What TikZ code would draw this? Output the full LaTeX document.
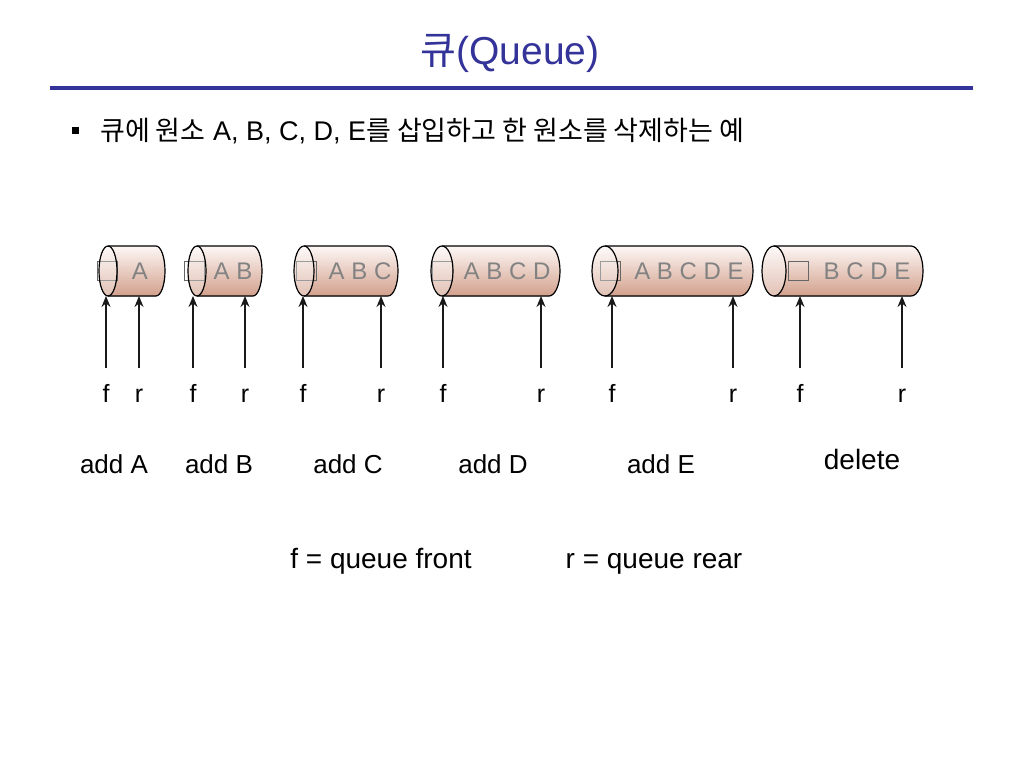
\documentclass[tikz,border=0pt]{standalone}
\usepackage{fontspec}
\setmainfont{Liberation Sans}
\newfontfamily\kr{Noto Sans CJK KR}
\usetikzlibrary{
  arrows.meta,
  positioning,  % Function "of" (e.g. [below=of x])
}
\definecolor{titleblue}{RGB}{51,51,153}
\definecolor{cylup}{RGB}{253,247,245}
\definecolor{cyldown}{RGB}{210,160,140}
\definecolor{elemgray}{RGB}{130,130,130}
\newcommand{\fs}[1]{\fontsize{#1}{#1}\selectfont}
% Queue tube: left x, right x, end radius, slot x, elements x, elements, name
\newcommand{\qcyl}[7]{
  \fill[top color=cylup,bottom color=cyldown] (#1+#3,246) -- (#2-#3,246)
    arc[start angle=-90,end angle=90,x radius=#3,y radius=25]
    -- (#1+#3,296) arc[start angle=90,end angle=270,x radius=#3,y radius=25] -- cycle;
  \node[my slot]  (sq#7) at (#4,270.5) {};
  \node[my elems] (el#7) at (#5,271)   {#6};
  \draw[tube line] (#1+#3,246) -- (#2-#3,246)
    arc[start angle=-90,end angle=90,x radius=#3,y radius=25] -- (#1+#3,296);
  \filldraw[tube line,fill=white,fill opacity=0.35] (#1+#3,271)
    ellipse[x radius=#3,y radius=25];
}
\tikzset{
  x=1pt, y=-1pt,
  >={Stealth[length=11pt,width=9pt]},
  tube line/.style={
    draw=black,
    line width=1.2pt
  },
  my slot/.style={
    draw=black!60,
    line width=1pt,
    minimum width=20pt,
    minimum height=19pt,
    inner sep=0pt,
    rectangle
  },
  my elems/.style={
    text=elemgray,
    font=\fs{24},
    inner sep=0pt
  },
  ptr/.style={
    ->,
    draw=black!90,
    line width=1.4pt
  },
  ptr label/.style={
    font=\fs{25},
    inner sep=0pt,
    text height=18pt,
    text depth=5pt
  },
  op label/.style={
    font=\fs{26},
    inner sep=0pt,
    anchor=base
  }
}

\begin{document}
\begin{tikzpicture}
\useasboundingbox (0,0) rectangle (1024,768);
% Title and rule
\node[anchor=base,inner sep=0pt,text=titleblue,font=\fs{39}] (title) at (510,64)
  {{\kr 큐}(Queue)};
\draw[titleblue,line width=4pt] (50,88) -- (973,88);
% Bullet line
\node[fill=black,minimum size=7pt,inner sep=0pt] (bul) at (75.5,130.5) {};
\node[anchor=base west,inner sep=0pt,font=\fs{27}] (intro) at (100,140)
  {{\kr 큐에 원소} A, B, C, D, E{\kr 를 삽입하고 한 원소를 삭제하는 예}};
% Tubes
\qcyl{99}{165}{9}{107}{140}{A}{1}
\qcyl{188}{262}{9}{194.5}{233}{A B}{2}
\qcyl{294}{398}{10}{306}{360}{A B C}{3}
\qcyl{431}{560}{11}{442.5}{507}{A B C D}{4}
\qcyl{592}{753}{13}{610}{689}{A B C D E}{5}
\qcyl{762}{923}{12}{798.5}{867}{B C D E}{6}
% add A
\coordinate (f1) at (106,368); \coordinate (f1t) at (106,296);
\coordinate (r1) at (139,368); \coordinate (r1t) at (139,296);
\draw[ptr] (f1) -- (f1t);
\draw[ptr] (r1) -- (r1t);
\node[ptr label,below=16pt of f1] (fl1) {f};
\node[ptr label,below=16pt of r1] (rl1) {r};
\node[op label] (op1) at (114,473) {add A};
% add B
\coordinate (f2) at (193,368); \coordinate (f2t) at (193,296);
\coordinate (r2) at (245,368); \coordinate (r2t) at (245,296);
\draw[ptr] (f2) -- (f2t);
\draw[ptr] (r2) -- (r2t);
\node[ptr label,below=16pt of f2] (fl2) {f};
\node[ptr label,below=16pt of r2] (rl2) {r};
\node[op label] (op2) at (219,473) {add B};
% add C
\coordinate (f3) at (303,368); \coordinate (f3t) at (303,296);
\coordinate (r3) at (381,368); \coordinate (r3t) at (381,296);
\draw[ptr] (f3) -- (f3t);
\draw[ptr] (r3) -- (r3t);
\node[ptr label,below=16pt of f3] (fl3) {f};
\node[ptr label,below=16pt of r3] (rl3) {r};
\node[op label] (op3) at (348,473) {add C};
% add D
\coordinate (f4) at (443,368); \coordinate (f4t) at (443,296);
\coordinate (r4) at (541,368); \coordinate (r4t) at (541,296);
\draw[ptr] (f4) -- (f4t);
\draw[ptr] (r4) -- (r4t);
\node[ptr label,below=16pt of f4] (fl4) {f};
\node[ptr label,below=16pt of r4] (rl4) {r};
\node[op label] (op4) at (493,473) {add D};
% add E
\coordinate (f5) at (612,368); \coordinate (f5t) at (612,296);
\coordinate (r5) at (733,368); \coordinate (r5t) at (733,296);
\draw[ptr] (f5) -- (f5t);
\draw[ptr] (r5) -- (r5t);
\node[ptr label,below=16pt of f5] (fl5) {f};
\node[ptr label,below=16pt of r5] (rl5) {r};
\node[op label] (op5) at (661,473) {add E};
% delete
\coordinate (f6) at (800,368); \coordinate (f6t) at (800,296);
\coordinate (r6) at (902,368); \coordinate (r6t) at (902,296);
\draw[ptr] (f6) -- (f6t);
\draw[ptr] (r6) -- (r6t);
\node[ptr label,below=16pt of f6] (fl6) {f};
\node[ptr label,below=16pt of r6] (rl6) {r};
\node[op label,font=\fs{28}] (op6) at (862,469) {delete};
% Legend
\node[op label,font=\fs{28}] (legf) at (381,568) {f = queue front};
\node[op label,font=\fs{28}] (legr) at (654,568) {r = queue rear};
\end{tikzpicture}
\end{document}
